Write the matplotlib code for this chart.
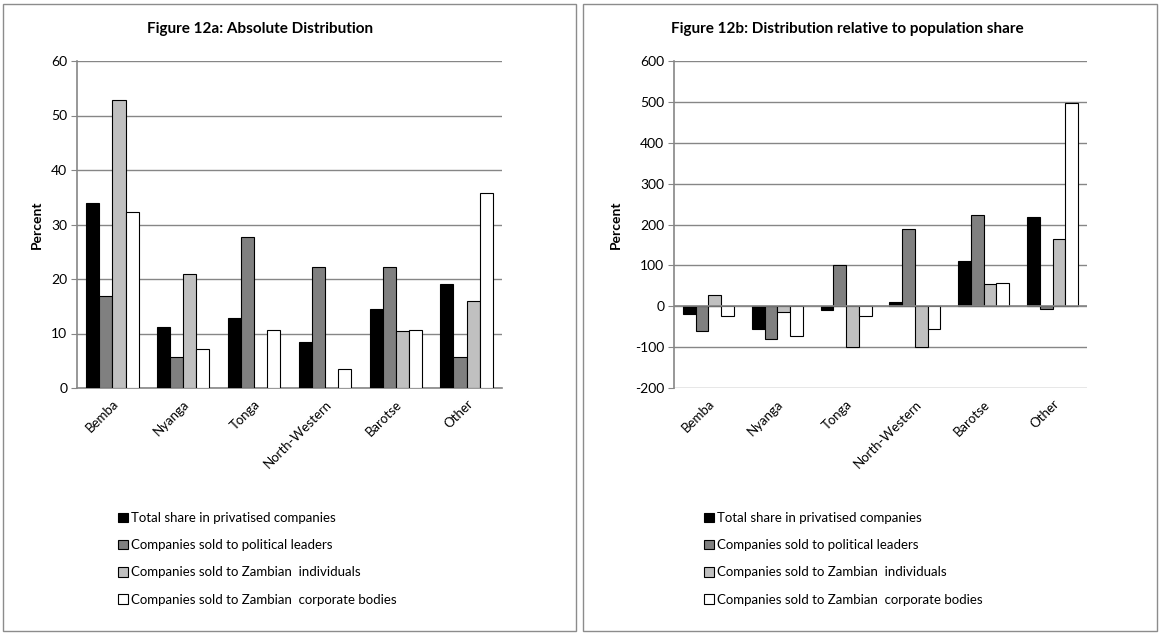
import matplotlib
matplotlib.use("Agg")
import matplotlib.pyplot as plt
import numpy as np
from matplotlib.patches import Rectangle, Patch

plt.rcParams['font.family'] = ['Lato', 'DejaVu Sans']

categories = ["Bemba", "Nyanga", "Tonga", "North-Western", "Barotse", "Other"]
series_names = ["Total share in privatised companies",
                "Companies sold to political leaders",
                "Companies sold to Zambian  individuals",
                "Companies sold to Zambian  corporate bodies"]
colors = ["#000000", "#808080", "#c0c0c0", "#ffffff"]

abs_total = [34.0, 11.2, 12.8, 8.5, 14.5, 19.1]
abs_political = [16.8, 5.6, 27.7, 22.2, 22.2, 5.6]
abs_individuals = [52.8, 21.0, 0.0, 0.0, 10.4, 15.9]
abs_corporate = [32.3, 7.1, 10.7, 3.5, 10.7, 35.8]

rel_total = [-19, -55, -10, 11, 111, 219]
rel_political = [-61, -79, 101, 188, 223, -6]
rel_individuals = [28, -14, -100, -100, 54, 165]
rel_corporate = [-25, -72, -25, -55, 57, 498]

fig = plt.figure(figsize=(11.6, 6.34), dpi=100)

# panel borders
for x0, x1 in [(3, 576), (583, 1157)]:
    fig.patches.append(Rectangle((x0 / 1160, 3 / 634), (x1 - x0) / 1160, (630 - 3) / 634,
                                 transform=fig.transFigure, fill=False,
                                 edgecolor="#8c8c8c", linewidth=1.0))

W, H = 1160, 634

def make_panel(rect, data, ylim, yticks, title, title_x, ylabel_x, legend_x):
    l, r, t, b = rect
    ax = fig.add_axes([l / W, 1 - b / H, (r - l) / W, (b - t) / H])
    x = np.arange(len(categories))
    bw = 0.185
    for i, (vals, c) in enumerate(zip(data, colors)):
        ax.bar(x + (i - 1.5) * bw, vals, width=bw, color=c, edgecolor="black",
               linewidth=0.8, label=series_names[i], zorder=3)
    ax.set_xlim(-0.5, len(categories) - 0.5)
    ax.set_ylim(*ylim)
    ax.set_yticks(yticks)
    ax.set_yticklabels([str(v) for v in yticks], fontsize=10)
    ax.set_xticks(x)
    ax.set_xticklabels(categories, rotation=45, ha="right", rotation_mode="anchor", fontsize=9.5)
    ax.tick_params(axis="x", length=0, pad=7)
    ax.tick_params(axis="y", length=4, color="#868686", direction="out", pad=3)
    ax.grid(axis="y", color="#868686", linewidth=1.0, zorder=0)
    for s in ["top", "right"]:
        ax.spines[s].set_visible(False)
    for s in ["left", "bottom"]:
        ax.spines[s].set_color("#868686")
        ax.spines[s].set_linewidth(1.2)
    if ylim[0] < 0:
        ax.spines["bottom"].set_visible(False)
        ax.axhline(0, color="#868686", linewidth=1.2, zorder=4)
    ax.set_axisbelow(True)
    fig.text(title_x / W, 1 - 29 / H, title, ha="center", va="center",
             fontsize=11, fontweight="bold")
    fig.text(ylabel_x / W, 1 - ((t + b) / 2) / H, "Percent", rotation=90, ha="center",
             va="center", fontsize=10, fontweight="bold")
    handles = [Patch(facecolor=c, edgecolor="black", linewidth=0.8) for c in colors]
    fig.legend(handles, series_names, loc="upper left",
               bbox_to_anchor=(legend_x / W, 1 - 512 / H), frameon=False,
               fontsize=9.5, handlelength=0.75, handleheight=0.75,
               handletextpad=0.25, labelspacing=1.15, borderpad=0, borderaxespad=0)
    return ax

make_panel((77, 502, 61, 388),
           [abs_total, abs_political, abs_individuals, abs_corporate],
           (0, 60), [0, 10, 20, 30, 40, 50, 60],
           "Figure 12a: Absolute Distribution", 260, 37, 118)
make_panel((674, 1087, 61, 388),
           [rel_total, rel_political, rel_individuals, rel_corporate],
           (-200, 600), [-200, -100, 0, 100, 200, 300, 400, 500, 600],
           "Figure 12b: Distribution relative to population share", 847, 616, 704)

fig.savefig("out.png", dpi=100)
